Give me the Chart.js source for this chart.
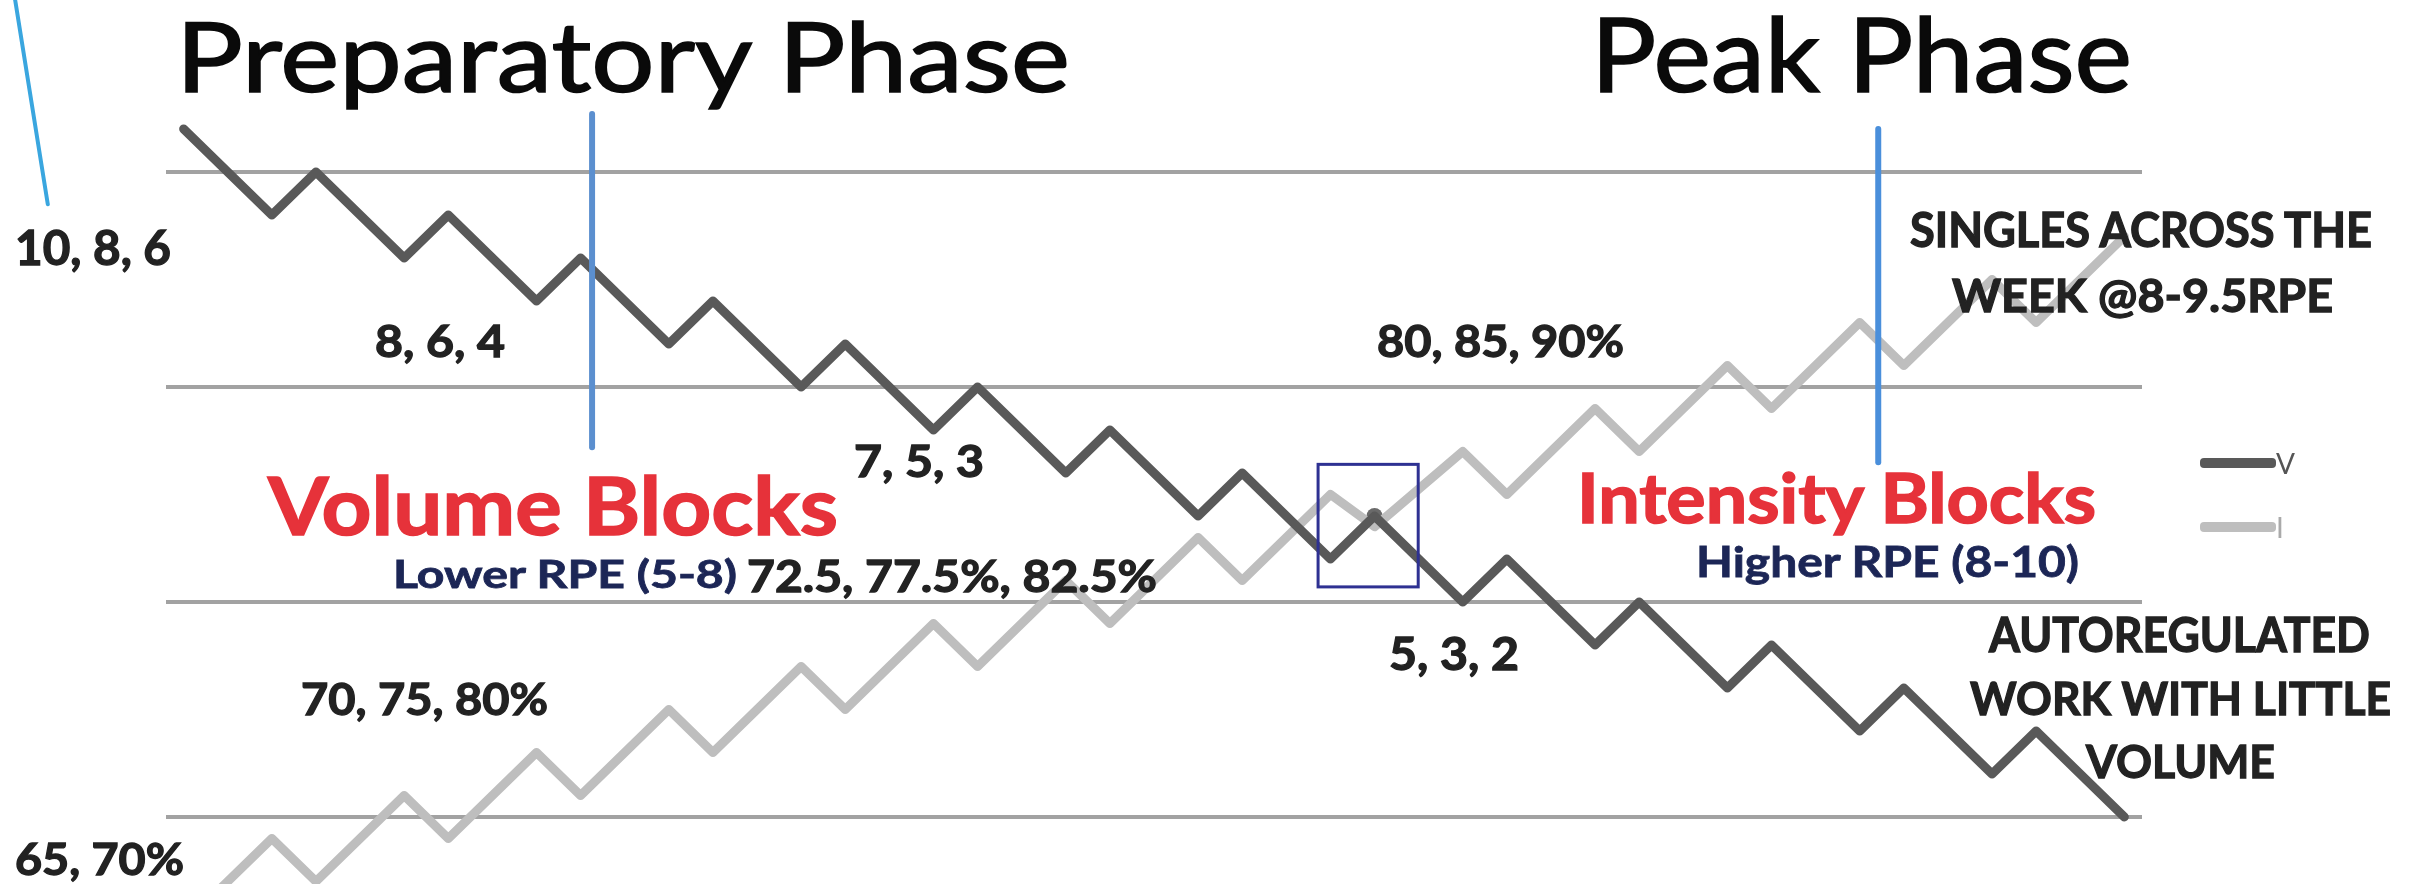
<!DOCTYPE html>
<html>
<head>
<meta charset="utf-8">
<title>Preparatory vs Peak Phase</title>
<script src="https://cdn.jsdelivr.net/npm/chart.js@4.4.1/dist/chart.umd.min.js"></script>
<style>
  html, body { margin: 0; padding: 0; background: #fff; overflow: hidden; }
  #wrap { position: relative; width: 2429px; height: 884px; }
  #notes, #legend { position: absolute; left: 0; top: 0; width: 2429px; height: 884px; pointer-events: none; }
  .note { position: absolute; white-space: pre; line-height: 1; transform-origin: 0 0; font-family: Lato, "Open Sans", sans-serif; }
  .item { position: absolute; display: flex; align-items: center; font-family: Lato, sans-serif; font-size: 28px; }
  .swatch { display: inline-block; width: 76px; height: 10px; border-radius: 4px; }
</style>
</head>
<body>
<div id="wrap">
  <canvas id="phaseChart" width="2429" height="884"></canvas>
  <div id="notes"></div>
  <div id="legend"></div>
</div>
<script>
// week index of each turning point of the two lines
const weekIdx = [0, 2, 3, 5, 6, 8, 9, 11, 12, 14, 15, 17, 18, 20, 21, 23, 24, 26, 27, 29, 30, 32, 33, 35, 36, 38, 39, 41, 42, 44];
// volume (dark line) and intensity (light line) (gridlines = 1..4)
const volumeLoad = [4.2, 3.8, 4.0, 3.6, 3.8, 3.4, 3.6, 3.2, 3.4, 3.0, 3.2, 2.8, 3.0, 2.6, 2.8, 2.4, 2.6, 2.2, 2.4, 2.0, 2.2, 1.8, 2.0, 1.6, 1.8, 1.4, 1.6, 1.2, 1.4, 1.0];
const intensityLoad = [0.5, 0.9, 0.7, 1.1, 0.9, 1.3, 1.1, 1.5, 1.3, 1.7, 1.5, 1.9, 1.7, 2.1, 1.9, 2.3, 2.1, 2.5, 2.35, 2.7, 2.5, 2.9, 2.7, 3.1, 2.9, 3.3, 3.1, 3.5, 3.3, 3.7];
const seriesNames = ['V', 'I'];
const gridValues = [1, 2, 3, 4];
// the crossover point marked inside the box
const crossWeek = 27;
const crossValue = 2.4;

const DARK = '#595959';
const LIGHT = '#bebebe';

const toPoints = (ys) => weekIdx.map((x, i) => ({ x: x, y: ys[i] }));

// extra shapes (in data units, so they follow the scales)
const blueLines = [
    { from: [-3.82, 4.8], to: [-3.08, 3.85], color: '#3aa6df', width: 4 },
    { from: [9.26, 4.27], to: [9.26, 2.72], color: '#5b8fcf', width: 6 },
    { from: [38.42, 4.2], to: [38.42, 2.65], color: '#4a8fdb', width: 6 }
];
const crossBox = { x0: 25.72, x1: 27.99, y0: 2.64, y1: 2.07, color: '#2e3192', width: 3 };

const shapesPlugin = {
    id: 'shapes',
    afterDatasetsDraw(chart) {
        const { ctx, scales: { x, y } } = chart;
        ctx.save();
        ctx.lineCap = 'round';
        blueLines.forEach(l => {
            ctx.beginPath();
            ctx.strokeStyle = l.color;
            ctx.lineWidth = l.width;
            ctx.moveTo(x.getPixelForValue(l.from[0]), y.getPixelForValue(l.from[1]));
            ctx.lineTo(x.getPixelForValue(l.to[0]), y.getPixelForValue(l.to[1]));
            ctx.stroke();
        });
        const bx0 = x.getPixelForValue(crossBox.x0), bx1 = x.getPixelForValue(crossBox.x1);
        const by0 = y.getPixelForValue(crossBox.y0), by1 = y.getPixelForValue(crossBox.y1);
        ctx.strokeStyle = crossBox.color;
        ctx.lineWidth = crossBox.width;
        ctx.lineCap = 'butt';
        ctx.strokeRect(bx0, by0, bx1 - bx0, by1 - by0);
        ctx.restore();
    }
};

const ctx = document.getElementById('phaseChart').getContext('2d');
const chart = new Chart(ctx, {
    type: 'line',
    data: {
        datasets: [
            {
                label: seriesNames[0],
                data: toPoints(volumeLoad),
                borderColor: DARK,
                backgroundColor: DARK,
                borderWidth: 9,
                pointRadius: 0,
                tension: 0,
                borderJoinStyle: 'round',
                borderCapStyle: 'round'
            },
            {
                label: seriesNames[1],
                data: toPoints(intensityLoad),
                borderColor: LIGHT,
                backgroundColor: LIGHT,
                borderWidth: 9,
                pointRadius: 0,
                tension: 0,
                borderJoinStyle: 'round',
                borderCapStyle: 'round'
            },
            {
                label: 'cross',
                data: [{ x: crossWeek, y: crossValue }],
                showLine: false,
                pointRadius: 8,
                pointBackgroundColor: '#6a6a6a',
                pointBorderWidth: 0
            }
        ]
    },
    options: {
        responsive: false,
        animation: false,
        devicePixelRatio: 1,
        layout: { autoPadding: false, padding: { left: 166, right: 287, top: 0, bottom: 0 } },
        plugins: { legend: { display: false }, tooltip: { enabled: false } },
        scales: {
            x: { type: 'linear', min: -0.4, max: 44.4, display: false },
            y: {
                type: 'linear',
                min: 0.688,
                max: 4.8,
                border: { display: false },
                ticks: { display: false, stepSize: 1, includeBounds: false },
                grid: {
                    drawTicks: false,
                    lineWidth: 4,
                    color: c => gridValues.includes(c.tick.value) ? '#a2a2a2' : 'rgba(0,0,0,0)'
                }
            }
        }
    },
    plugins: [shapesPlugin]
});

// legend built from the datasets
const legendSpots = [463, 527];
const legendTextColor = ['#555', '#aaa'];
const legendEl = document.getElementById('legend');
chart.data.datasets.slice(0, 2).forEach((ds, i) => {
    const item = document.createElement('div');
    item.className = 'item';
    item.style.left = '2200px';
    item.style.top = (legendSpots[i] - 17) + 'px';
    item.style.height = '34px';
    item.style.color = legendTextColor[i];
    item.innerHTML = '<span class="swatch" style="background:' + ds.borderColor + '"></span><span>' + ds.label + '</span>';
    legendEl.appendChild(item);
});

// text annotations: left edge, baseline, cap height, target width, extra stroke
const RED = '#e6323a';
const NAVY = '#1c2656';
const INK = '#222';
const notes = [
    { t: 'Preparatory Phase', l: 176, b: 92, cap: 70, w: 894, wt: 400, c: '#0a0a0a', s: 1.6 },
    { t: 'Peak Phase', l: 1591, b: 92, cap: 74, w: 541, wt: 400, c: '#0a0a0a', s: 1.6 },
    { t: '10, 8, 6', l: 15, b: 265, cap: 34, w: 156, wt: 700, c: INK, s: 1.3 },
    { t: '8, 6, 4', l: 375, b: 357, cap: 31, w: 130, wt: 700, c: INK, s: 1.3 },
    { t: '7, 5, 3', l: 854, b: 477, cap: 31, w: 130, wt: 700, c: INK, s: 1.3 },
    { t: '80, 85, 90%', l: 1377, b: 357, cap: 32, w: 247, wt: 700, c: INK, s: 1.3 },
    { t: '72.5, 77.5%, 82.5%', l: 747, b: 592, cap: 32, w: 410, wt: 700, c: INK, s: 1.3 },
    { t: '70, 75, 80%', l: 301, b: 715, cap: 32, w: 247, wt: 700, c: INK, s: 1.3 },
    { t: '65, 70%', l: 15, b: 875, cap: 32, w: 169, wt: 700, c: INK, s: 1.3 },
    { t: '5, 3, 2', l: 1389, b: 670, cap: 33, w: 130, wt: 700, c: INK, s: 1.3 },
    { t: 'Volume Blocks', l: 268, b: 535, cap: 57, w: 570, wt: 700, c: RED, s: 1.5 },
    { t: 'Lower RPE (5-8)', l: 393, b: 588, cap: 27, w: 344, wt: 700, c: NAVY, s: 0.8 },
    { t: 'Intensity Blocks', l: 1577, b: 523, cap: 50, w: 519, wt: 700, c: RED, s: 1.5 },
    { t: 'Higher RPE (8-10)', l: 1696, b: 577, cap: 30, w: 383, wt: 700, c: NAVY, s: 0.8 },
    { t: 'SINGLES ACROSS THE', l: 1910, b: 247, cap: 34, w: 462, wt: 700, c: INK, s: 1.3 },
    { t: 'WEEK @8-9.5RPE', l: 1952, b: 312, cap: 33, w: 381, wt: 700, c: INK, s: 1.3 },
    { t: 'AUTOREGULATED', l: 1989, b: 652, cap: 34, w: 381, wt: 700, c: INK, s: 1.3 },
    { t: 'WORK WITH LITTLE', l: 1970, b: 715, cap: 33, w: 421, wt: 700, c: INK, s: 1.3 },
    { t: 'VOLUME', l: 2086, b: 778, cap: 33, w: 189, wt: 700, c: INK, s: 1.3 }
];

const notesEl = document.getElementById('notes');
const CAP_RATIO = 0.7165; // Lato cap height / em
notes.forEach(n => {
    const el = document.createElement('div');
    el.className = 'note';
    el.style.fontSize = (n.cap / CAP_RATIO).toFixed(1) + 'px';
    el.style.fontWeight = n.wt;
    el.style.color = n.c;
    el.style.webkitTextStroke = n.s + 'px ' + n.c;
    el.style.left = n.l + 'px';
    el.textContent = n.t;
    const probe = document.createElement('span');
    probe.style.cssText = 'display:inline-block;width:0;height:0;vertical-align:baseline';
    el.appendChild(probe);
    notesEl.appendChild(el);
    el.style.top = (n.b - probe.offsetTop) + 'px';
    const natural = el.getBoundingClientRect().width;
    el.style.transform = 'scaleX(' + (n.w / natural).toFixed(4) + ')';
});
</script>
</body>
</html>
